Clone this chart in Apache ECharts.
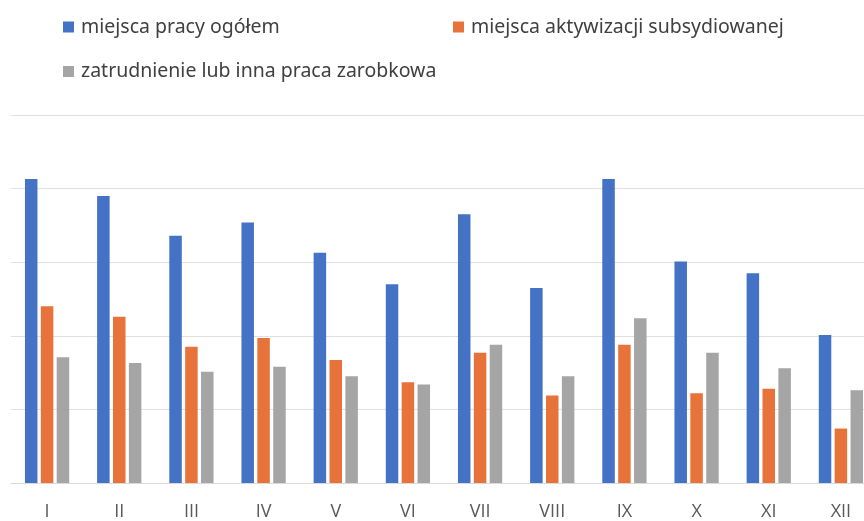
<!DOCTYPE html>
<html>
<head>
<meta charset="utf-8">
<script src="https://cdn.jsdelivr.net/npm/echarts@6/dist/echarts.min.js"></script>
<style>html,body{margin:0;padding:0;background:#fff;overflow:hidden}#c{width:880px;height:521px}</style>
</head>
<body>
<div id="c"></div>
<script>
const months = ['I','II','III','IV','V','VI','VII','VIII','IX','X','XI','XII'];
const seriesNames = ['miejsca pracy ogółem','miejsca aktywizacji subsydiowanej','zatrudnienie lub inna praca zarobkowa'];
const ogolem = [4.13, 3.90, 3.36, 3.54, 3.13, 2.70, 3.65, 2.65, 4.13, 3.01, 2.85, 2.01];
const subsydiowane = [2.40, 2.26, 1.85, 1.97, 1.67, 1.37, 1.77, 1.19, 1.88, 1.22, 1.28, 0.74];
const zatrudnienie = [1.71, 1.63, 1.51, 1.58, 1.45, 1.34, 1.88, 1.45, 2.24, 1.77, 1.56, 1.26];
const yTicks = [0, 1, 2, 3, 4, 5];

const FONT = '"Open Sans", "Noto Sans", sans-serif';
const colors = ['#4472C4', '#E8733A', '#A5A5A5'];
const chart = echarts.init(document.getElementById('c'));
const legendText = { color: '#404040', fontSize: 19.5, fontFamily: '"Noto Sans", sans-serif', padding: [0,0,0,2] };
const mkLegend = (name, left, top) => ({
  data: [name], left: left, top: top, itemWidth: 11, itemHeight: 11, icon: 'rect', padding: 0,
  textStyle: legendText, selectedMode: false
});
const mkSeries = (i, data) => ({
  name: seriesNames[i], type: 'bar', data: data, barWidth: 12.5, barGap: '27%',
  itemStyle: { color: colors[i] }, animation: false
});
chart.setOption({
  animation: false,
  color: colors,
  textStyle: { fontFamily: FONT },
  legend: [
    mkLegend(seriesNames[0], 63, 17),
    mkLegend(seriesNames[1], 453, 17),
    mkLegend(seriesNames[2], 63, 61.5)
  ],
  grid: { left: 11, top: 115, width: 866, height: 368.5, containLabel: false },
  xAxis: {
    type: 'category', data: months,
    axisLine: { lineStyle: { color: '#d9d9d9', width: 1 } },
    axisTick: { show: false },
    axisLabel: { color: '#595959', fontSize: 18, fontFamily: FONT, margin: 20, interval: 0 }
  },
  yAxis: {
    type: 'value', min: yTicks[0], max: yTicks[yTicks.length-1], interval: 1,
    axisLabel: { show: false }, axisLine: { show: false }, axisTick: { show: false },
    splitLine: { lineStyle: { color: '#e0e0e0', width: 1 } }
  },
  series: [mkSeries(0, ogolem), mkSeries(1, subsydiowane), mkSeries(2, zatrudnienie)]
});
</script>
</body>
</html>
